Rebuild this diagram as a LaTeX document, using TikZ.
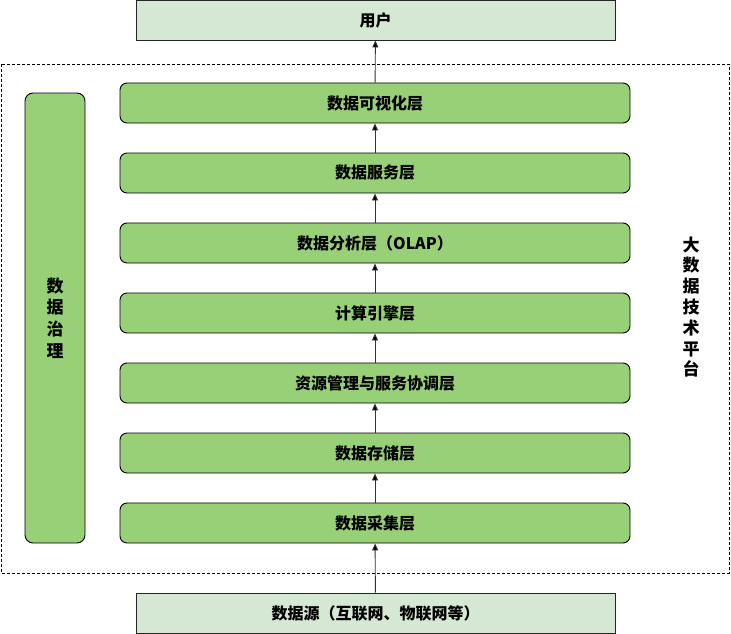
\documentclass[tikz,border=0pt]{standalone}
\usepackage{fontspec}
\setmainfont{Noto Sans CJK SC}
\usetikzlibrary{arrows.meta}
\definecolor{layerfill}{HTML}{97D077}
\definecolor{endfill}{HTML}{D5E8D4}
\definecolor{edge}{HTML}{333333}
\tikzset{
  layer/.style={draw=black, fill=layerfill, rounded corners=7pt, line width=0.9pt,
    minimum width=510pt, minimum height=40pt, inner sep=0pt,
    font=\fontsize{16pt}{19pt}\selectfont\bfseries},
  endbox/.style={draw=black!85, fill=endfill, line width=0.9pt,
    minimum width=479pt, minimum height=40pt, inner sep=0pt,
    font=\fontsize{16pt}{19pt}\selectfont\bfseries},
  flow/.style={draw=edge, line width=0.9pt, -{Triangle[length=7pt,width=6pt,fill=black]}},
  platform/.style={draw=black, dashed, line width=0.8pt, dash pattern=on 3pt off 2pt},
}
\begin{document}
\begin{tikzpicture}[x=1pt,y=-1pt]
\useasboundingbox (0,0) rectangle (731,634);
\draw[platform] (1,64) rectangle (729,573);
\node[endbox] (user) at (375.5,20) {用户};
\node[endbox] (src) at (375.5,613) {数据源（互联网、物联网等）};
\node[layer] (l7) at (375,103) {数据可视化层};
\node[layer] (l6) at (375,173) {数据服务层};
\node[layer] (l5) at (375,243) {数据分析层（OLAP）};
\node[layer] (l4) at (375,313) {计算引擎层};
\node[layer] (l3) at (375,383) {资源管理与服务协调层};
\node[layer] (l2) at (375,453) {数据存储层};
\node[layer] (l1) at (375,523) {数据采集层};
\node[draw=black, fill=layerfill, rounded corners=8pt, line width=0.9pt,
  minimum width=60pt, minimum height=450pt, inner sep=0pt,
  font=\fontsize{17pt}{21.7pt}\selectfont\bfseries, align=center] (gov) at (55,318) {数\\据\\治\\理};
\node[font=\fontsize{17pt}{20.8pt}\selectfont\bfseries, align=center] (plat) at (691,307) {大\\数\\据\\技\\术\\平\\台};
\draw[flow] (src) -- (l1);
\draw[flow] (l1) -- (l2);
\draw[flow] (l2) -- (l3);
\draw[flow] (l3) -- (l4);
\draw[flow] (l4) -- (l5);
\draw[flow] (l5) -- (l6);
\draw[flow] (l6) -- (l7);
\draw[flow] (l7) -- (user);
\end{tikzpicture}
\end{document}
